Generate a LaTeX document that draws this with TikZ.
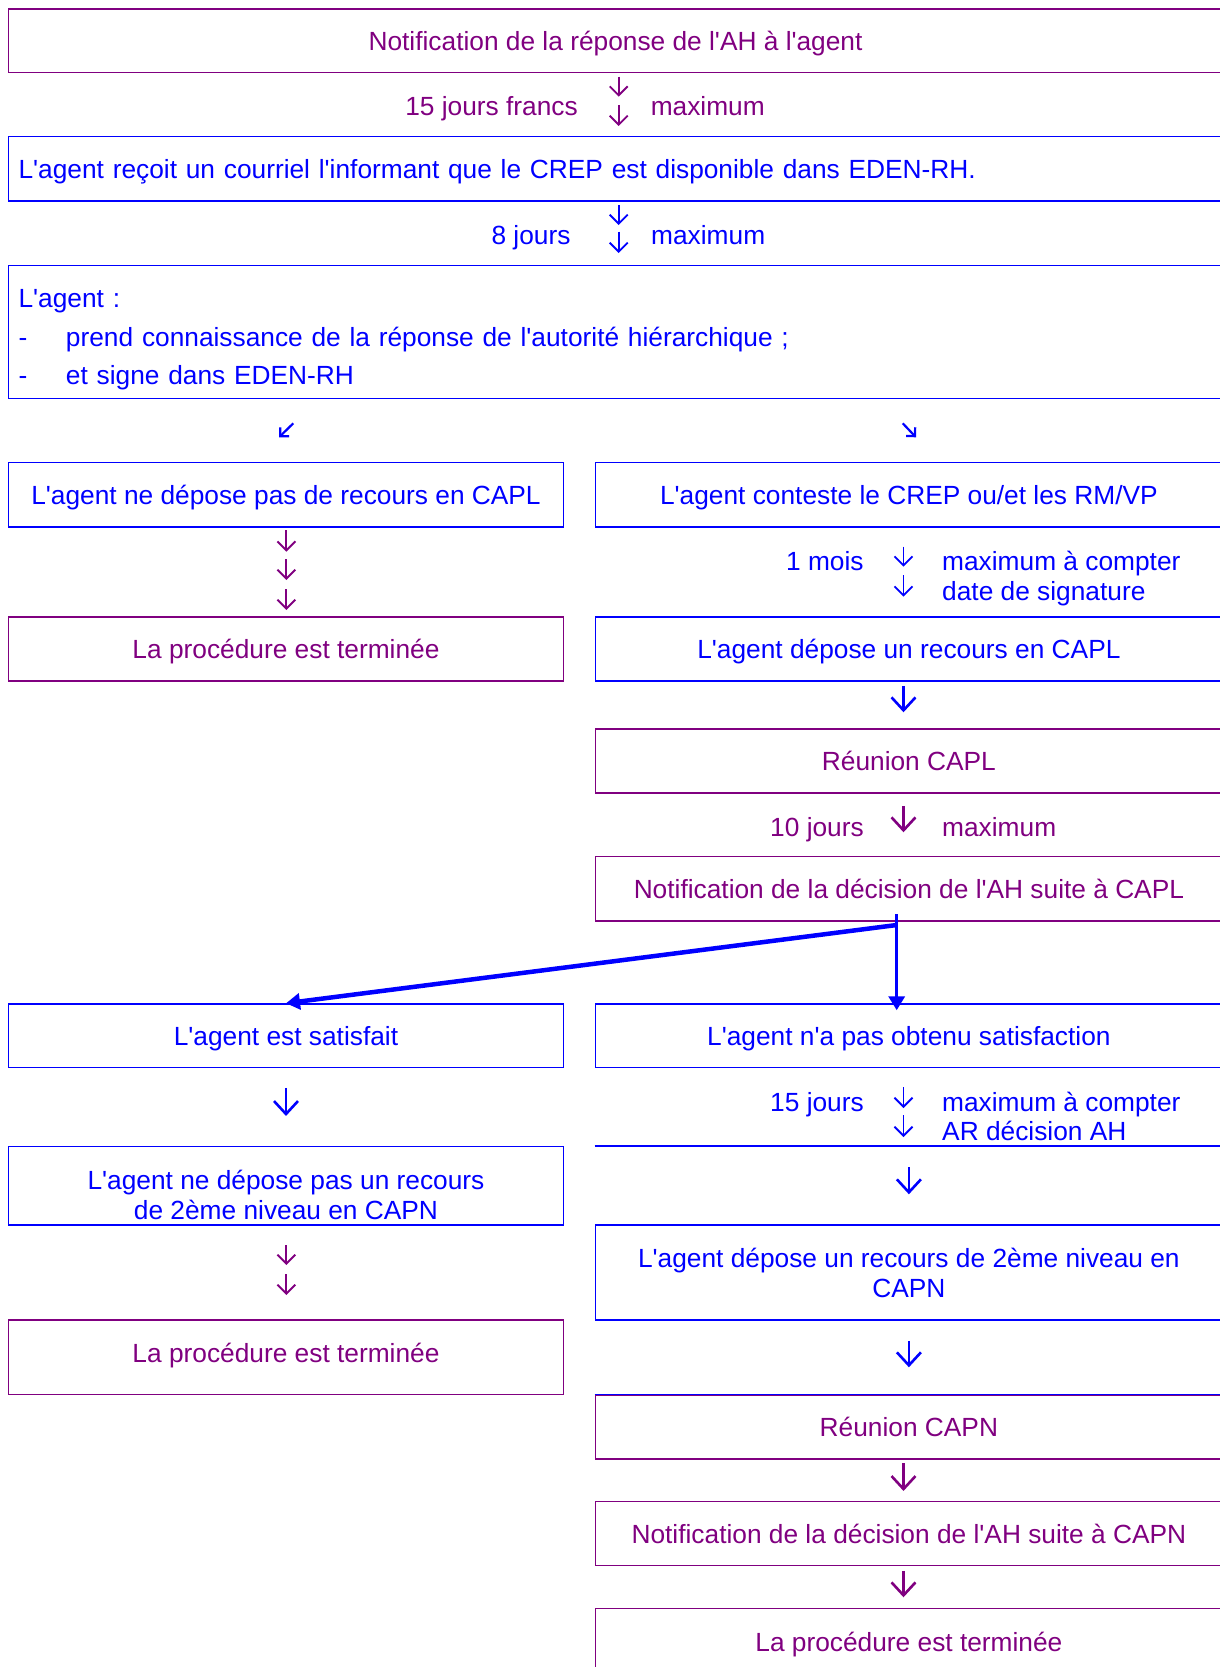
\documentclass[tikz,border=0pt]{standalone}
\usepackage{fontspec}
\setmainfont{Liberation Sans}[Ligatures=TeXOff]
\usetikzlibrary{arrows.meta}
\definecolor{mauve}{RGB}{128,0,128}
\definecolor{bleu}{RGB}{0,0,255}

\begin{document}
\begin{tikzpicture}
  [x=1pt,y=-1pt,every node/.style={inner sep=0pt,font=\fontsize{26.3pt}{30pt}\selectfont},
   cadre/.style={draw,line width=1.5pt},
   boite/.style={cadre,text height=19pt,text depth=0pt},
   large/.style={minimum width=1213.9pt},
   gauche/.style={minimum width=554.8pt},
   droite/.style={minimum width=627.2pt},
   petite/.style={line width=1.9pt,-{Straight Barb[length=9pt,width=18pt]}},
   grande/.style={line width=2.6pt,-{Straight Barb[length=13pt,width=24pt]}},
   oblique/.style={line width=2.2pt,-{Straight Barb[length=6.3pt,width=12.6pt]}},
   lien/.style={bleu,-{Triangle[length=14pt,width=16pt]}}]
  \useasboundingbox (0,0) rectangle (1220,1667);
  \clip (0,0) rectangle (1220,1667);

  % tronc commun
  \node[boite,large,mauve,minimum height=63.7pt] (notif) at (615.55,40.85) {Notification de la réponse de l'AH à l'agent};
  \node[boite,large,bleu,minimum height=64.3pt,text width=1193.9pt,align=left] (courriel) at (615.55,168.85) {L'agent reçoit un courriel l'informant que le CREP est disponible dans EDEN-RH.};
  \node[cadre,large,bleu,minimum height=133.4pt,text width=1193.9pt,align=left,font=\fontsize{26.3pt}{38.35pt}\selectfont] (signe) at (615.55,332)
    {\rule{0pt}{33.9pt}L'agent :\\\makebox[47.4pt][l]{-}prend connaissance de la réponse de l'autorité hiérarchique ;\\\makebox[47.4pt][l]{-}et signe dans EDEN-RH};

  % delais
  \node[mauve,anchor=base east] (delai1) at (578,116) {15 jours francs};
  \node[mauve,anchor=base west] (max1) at (650.6,116) {maximum};
  \node[bleu,anchor=base east] (delai2) at (570.7,244) {8 jours};
  \node[bleu,anchor=base west] (max2) at (651,244) {maximum};

  % colonne gauche
  \node[boite,gauche,bleu,minimum height=64.3pt] (sansrecours) at (286,494.85) {L'agent ne dépose pas de recours en CAPL};
  \node[boite,gauche,mauve,minimum height=64pt] (fin1) at (286,649) {La procédure est terminée};
  \node[boite,gauche,bleu,minimum height=63.7pt] (satisfait) at (286,1035.85) {L'agent est satisfait};
  \node[cadre,gauche,bleu,minimum height=78.3pt,align=center] (sanscapn) at (286,1185.85) {\rule{0pt}{37.3pt}L'agent ne dépose pas un recours\\de 2ème niveau en CAPN};
  \node[boite,gauche,mauve,minimum height=74.3pt,text depth=9.2pt] (fin2) at (286,1357.15) {La procédure est terminée};

  % colonne droite
  \node[boite,droite,bleu,minimum height=64.3pt] (conteste) at (908.9,494.85) {L'agent conteste le CREP ou/et les RM/VP};
  \node[boite,droite,bleu,minimum height=64pt] (recours) at (908.9,649) {L'agent dépose un recours en CAPL};
  \node[boite,droite,mauve,minimum height=64pt] (capl) at (908.9,761) {Réunion CAPL};
  \node[boite,droite,mauve,minimum height=64.3pt] (notifcapl) at (908.9,888.85) {Notification de la décision de l'AH suite à CAPL};
  \node[boite,droite,bleu,minimum height=63.7pt] (insatisfait) at (908.9,1035.85) {L'agent n'a pas obtenu satisfaction};
  \node[cadre,droite,bleu,minimum height=95pt,align=center] (recourscapn) at (908.9,1272.5) {L'agent dépose un recours de 2ème niveau en\\CAPN};
  \node[boite,droite,mauve,minimum height=64pt] (capn) at (908.9,1427) {Réunion CAPN};
  \node[boite,droite,mauve,minimum height=64pt] (notifcapn) at (908.9,1533.7) {Notification de la décision de l'AH suite à CAPN};
  \node[boite,droite,mauve,minimum height=66.7pt] (fin3) at (908.9,1641.65) {La procédure est terminée};

  \node[bleu,anchor=base east] (delai3) at (863.8,570.5) {1 mois};
  \node[bleu,anchor=base west] (max3) at (942,570.5) {maximum à compter};
  \node[bleu,anchor=base west] (date3) at (942,600) {date de signature};
  \node[mauve,anchor=base east] (delai4) at (864,836) {10 jours};
  \node[mauve,anchor=base west] (max4) at (942,836) {maximum};
  \node[bleu,anchor=base east] (delai5) at (864,1111) {15 jours};
  \node[bleu,anchor=base west] (max5) at (942,1111) {maximum à compter};
  \node[bleu,anchor=base west] (ar5) at (942,1140.5) {AR décision AH};

  \draw[bleu,line width=1.5pt] (sanscapn.north -| insatisfait.west) -- (sanscapn.north -| insatisfait.east);
  \draw[bleu,line width=1.5pt] (capn.north west) -- (capn.north east);

  % petites fleches
  \foreach \n/\x/\a/\b/\c in {f1/618.7/76.7/96.7/mauve, f2/618.7/105/126/mauve,
      h1/618.7/205/225/bleu, h2/618.7/231.7/253/bleu,
      t1/286.4/530/551.7/mauve, t2/286.4/559/580/mauve, t3/286.4/589/610/mauve,
      m1/903.5/546.7/566.7/bleu, m2/903.5/575/596.7/bleu,
      q1/903.5/1087/1108/bleu, q2/903.5/1115/1137/bleu,
      d1/286.4/1245/1265/mauve, d2/286.4/1274/1295/mauve}
    {\coordinate (\n-a) at (\x,\a);
     \coordinate (\n-b) at (\x,\b);
     \draw[petite,\c] (\n-a) -- (\n-b);}

  \coordinate (vg-a) at (293.3,423.3);
  \coordinate (vg-b) at (279,437.3);
  \coordinate (vd-a) at (902.7,423.3);
  \coordinate (vd-b) at (916,437.3);
  \draw[oblique,bleu] (vg-a) -- (vg-b);
  \draw[oblique,bleu] (vd-a) -- (vd-b);

  % grandes fleches
  \draw[grande,bleu,shorten <=4pt,shorten >=16pt] ([xshift=-5.4pt]recours.south) -- ([xshift=-5.4pt]capl.north);
  \draw[grande,mauve,shorten <=12pt,shorten >=23.7pt] ([xshift=-5.4pt]capl.south) -- ([xshift=-5.4pt]notifcapl.north);
  \draw[grande,bleu,shorten <=19.3pt,shorten >=30pt] (satisfait.south) -- (sanscapn.north);
  \draw[grande,bleu,shorten <=99pt,shorten >=30pt] (insatisfait.south) -- (recourscapn.north);
  \draw[grande,bleu,shorten <=20pt,shorten >=27pt] (recourscapn.south) -- (capn.north);
  \draw[grande,mauve,shorten <=3.7pt,shorten >=10pt] ([xshift=-5.4pt]capn.south) -- ([xshift=-5.4pt]notifcapn.north);
  \draw[grande,mauve,shorten <=4.3pt,shorten >=10.3pt] ([xshift=-5.4pt]notifcapn.south) -- ([xshift=-5.4pt]fin3.north);

  % decision apres CAPL
  \coordinate (depart) at (896.7,914);
  \coordinate (coude) at (896.7,925);
  \draw[lien,line width=3.5pt,shorten >=-7pt] (depart) -- (depart |- insatisfait.north);
  \draw[lien,line width=4.5pt] (coude) -- (satisfait.north);

\end{tikzpicture}
\end{document}
